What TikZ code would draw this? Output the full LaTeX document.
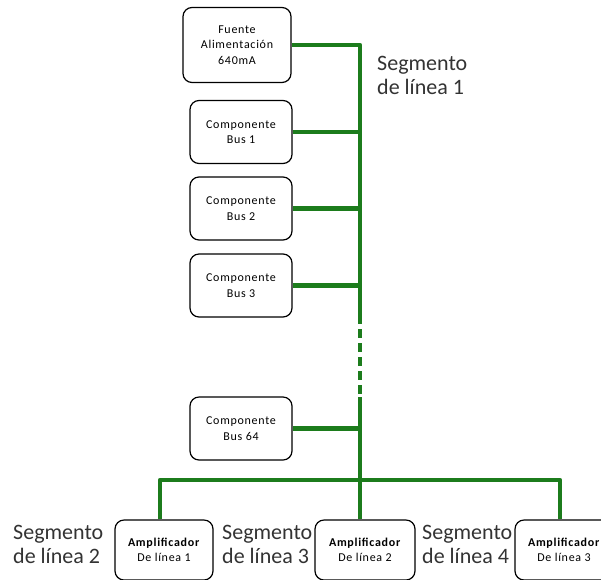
\documentclass[tikz,border=0pt]{standalone}
\usepackage{fontspec}
\setmainfont{Carlito}
\newfontfamily\boxfont[LetterSpace=6]{Carlito}
\begin{document}
\begin{tikzpicture}[x=1pt,y=-1pt,
  busline/.style={draw=buscolor,line width=4.5pt,line join=round},
  dashbus/.style={busline,dash pattern=on 9pt off 5pt},
  devbox/.style={draw=black,line width=1.2pt,rounded corners=9pt,fill=white,
    align=center,inner sep=2pt,font=\boxfont\fontsize{12}{15.5}\selectfont},
  ampbox/.style={devbox,font=\boxfont\fontsize{12}{15}\selectfont},
  seglabel/.style={align=left,anchor=base west,inner sep=0pt,
    font=\fontsize{22}{24}\selectfont,text=black!80}]
\definecolor{buscolor}{RGB}{28,124,28}
\useasboundingbox (0,0) rectangle (601,579);
\clip (0,0) rectangle (601,579);

% devices on line 1
\node[devbox,minimum width=108pt,minimum height=75pt] (psu) at (237,45)
  {Fuente\\Alimentación\\640mA};
\node[devbox,minimum width=102pt,minimum height=63pt] (c1) at (241,132) {Componente\\Bus 1};
\node[devbox,minimum width=102pt,minimum height=63pt] (c2) at (241,208.5) {Componente\\Bus 2};
\node[devbox,minimum width=102pt,minimum height=63pt] (c3) at (241,285.5) {Componente\\Bus 3};
\node[devbox,minimum width=102pt,minimum height=63pt] (c64) at (241,428.5) {Componente\\Bus 64};

% line amplifiers
\node[ampbox,minimum width=98pt,minimum height=60pt] (a1) at (164,550) {\textbf{Amplificador}\\De línea 1};
\node[ampbox,minimum width=100pt,minimum height=60pt] (a2) at (365,550) {\textbf{Amplificador}\\De línea 2};
\node[ampbox,minimum width=98pt,minimum height=60pt] (a3) at (564,550) {\textbf{Amplificador}\\De línea 3};

% bus junction points
\coordinate (top) at (360,45);
\coordinate (dashA) at (360,315);
\coordinate (dashB) at (360,397);
\coordinate (hub) at (360,480);
\coordinate (left) at (160,480);
\coordinate (right) at (560,480);

% line 1 bus
\draw[busline] (psu.east) -- (top) -- (dashA);
\draw[dashbus] (dashA) -- (dashB);
\draw[busline] (dashB) -- (hub);
\draw[busline] (c1.east) -- (c1.east -| top);
\draw[busline] (c2.east) -- (c2.east -| top);
\draw[busline] (c3.east) -- (c3.east -| top);
\draw[busline] (c64.east) -- (c64.east -| top);

% main line to amplifiers
\draw[busline] (left |- a1.north) -- (left) -- (right) -- (right |- a3.north);
\draw[busline] (hub) -- (hub |- a2.north);

% segment labels (anchored at the baseline of the second line)
\node[seglabel] (s1) at (377,94) {Segmento\\de línea 1};
\node[seglabel] (s2) at (13,563) {Segmento\\de línea 2};
\node[seglabel] (s3) at (222,563) {Segmento\\de línea 3};
\node[seglabel] (s4) at (422,563) {Segmento\\de línea 4};
\end{tikzpicture}
\end{document}
